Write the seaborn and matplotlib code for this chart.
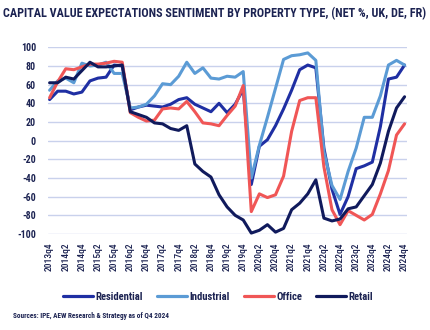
import matplotlib
matplotlib.use("Agg")
import matplotlib.pyplot as plt
from matplotlib import font_manager as fm
import seaborn as sns
import pandas as pd

# Quarter labels, 2013q4 .. 2024q4
quarters = [f"{y}q{q}" for y in range(2013, 2025) for q in range(1, 5)][3:]

residential = [44, 53, 53, 50, 52, 64, 67, 68, 81, 80,
               33, 36, 38, 37, 36, 39, 44, 46, 39, 35,
               31, 40, 30, 39, 55, -47, -6, 1, 16, 34,
               54, 76, 81, 78, -8, -52, -79, -60, -30, -27,
               -23, 15, 66, 68, 81]
industrial = [54, 64, 67, 62, 83, 80, 81, 84, 72, 72,
              35, 36, 39, 48, 61, 60, 69, 84, 72, 78,
              67, 66, 69, 68, 74, -40, -5, 25, 56, 87,
              91, 92, 94, 86, -12, -48, -63, -33, -8, 25,
              25, 48, 81, 86, 81]
office = [46, 63, 77, 76, 79, 82, 82, 83, 85, 84,
          30, 25, 21, 22, 34, 35, 34, 42, 31, 19,
          18, 16, 27, 37, 59, -76, -57, -61, -58, -38,
          10, 43, 46, 46, -28, -74, -90, -75, -80, -85,
          -79, -57, -32, 6, 18]
retail = [62, 62, 68, 66, 75, 84, 79, 79, 80, 81,
          31, 28, 25, 19, 18, 13, 11, 16, -25, -33,
          -39, -58, -71, -80, -85, -99, -96, -90, -98, -94,
          -74, -67, -57, -42, -83, -86, -84, -73, -71, -59,
          -47, -24, 10, 35, 47]

series_names = ["Residential", "Industrial", "Office", "Retail"]
colors = ["#1f2fa3", "#5b9bd5", "#f05656", "#101a5c"]
y_ticks = list(range(-100, 101, 20))

navy = "#1c2352"


def find_font(patterns):
    """Return the first installed font file whose name matches a pattern."""
    files = [f.fname for f in fm.fontManager.ttflist]
    for pat in patterns:
        for fn in files:
            base = fn.replace("\\", "/").split("/")[-1].lower()
            if base.startswith(pat):
                return fn
    return None


bold_file = find_font(["robotocondensed-bold.", "notosans-condensedbold.",
                       "liberationsansnarrow-bold.", "dejavusanscondensed-bold.",
                       "opensans-condbold", "roboto-bold."])
medium_file = find_font(["robotocondensed-medium.", "notosans-condensedmedium.",
                         "robotocondensed-regular.", "notosans-condensed.",
                         "liberationsansnarrow-regular.", "dejavusanscondensed.",
                         "roboto-medium."])


def fp(path, size, bold=False):
    if path:
        return fm.FontProperties(fname=path, size=size)
    return fm.FontProperties(family="DejaVu Sans", size=size,
                             weight="bold" if bold else "normal")


frames = []
for name, vals in zip(series_names, [residential, industrial, office, retail]):
    frames.append(pd.DataFrame({"idx": range(len(quarters)), "value": vals,
                                "series": name}))
df = pd.concat(frames, ignore_index=True)

sns.set_theme(style="white")

fig = plt.figure(figsize=(4.31, 3.30), dpi=100)
ax = fig.add_axes([48 / 431, 1 - 234 / 330, 359 / 431, (234 - 47.3) / 330])

sns.lineplot(data=df, x="idx", y="value", hue="series", hue_order=series_names,
             palette=colors, linewidth=2.2, ax=ax, legend=False, sort=False)
for line in ax.get_lines():
    line.set_clip_on(False)
    line.set_solid_joinstyle("round")
    line.set_solid_capstyle("round")

ax.set_xlim(-0.2, 44.3)
ax.set_ylim(-100, 100)
ax.set_yticks(y_ticks)
ax.set_yticklabels([str(v) for v in y_ticks], color=navy)
xt = list(range(0, len(quarters), 2))
ax.set_xticks(xt)
ax.set_xticklabels([quarters[i] for i in xt], rotation=90, color=navy)
ax.tick_params(axis="y", length=0, pad=8.6)
ax.tick_params(axis="x", length=0, pad=6.0)
ax.set_xlabel("")
ax.set_ylabel("")
ax.grid(axis="y", color="#c9d1ec", linewidth=1.0)
ax.grid(axis="x", visible=False)
ax.set_axisbelow(True)
for s in ax.spines.values():
    s.set_visible(False)

ytick_size, xtick_size = 9.0, 8.0
for lab in ax.get_yticklabels():
    lab.set_fontproperties(fp(bold_file, ytick_size, True))
for lab in ax.get_xticklabels():
    lab.set_fontproperties(fp(medium_file, xtick_size))

title_size = 10.0
title = fig.text(3 / 431, 1 - 14 / 330,
                 "CAPITAL VALUE EXPECTATIONS SENTIMENT BY PROPERTY TYPE, (NET %, UK, DE, FR)",
                 ha="left", va="center", color=navy,
                 fontproperties=fp(bold_file, title_size, True))
src_size = 6.5
source = fig.text(13 / 431, 1 - 316 / 330,
                  "Sources: IPE, AEW Research & Strategy as of Q4 2024",
                  ha="left", va="center", color=navy,
                  fontproperties=fp(bold_file, src_size, True))
probe_size = 9.5
probe = fig.text(0, 0, "Residential", fontproperties=fp(bold_file, probe_size, True))

# Fit text sizes to the widths they occupy on the page
fig.canvas.draw()
r = fig.canvas.get_renderer()
title.set_fontsize(title_size * 424 / title.get_window_extent(r).width)
source.set_fontsize(src_size * 158 / source.get_window_extent(r).width)
leg_size = probe_size * 48 / probe.get_window_extent(r).width
probe.remove()
w = ax.get_yticklabels()[-1].get_window_extent(r).width
for lab in ax.get_yticklabels():
    lab.set_fontsize(ytick_size * 15 / w)
h = ax.get_xticklabels()[0].get_window_extent(r).height
for lab in ax.get_xticklabels():
    lab.set_fontsize(xtick_size * 28.5 / h)

# Legend: 30 px handles, 2 px gap to text, 14 px between entries
px = 72 / 100
handles = [plt.Line2D([0], [0], color=c, linewidth=2.3) for c in colors]
leg = fig.legend(handles, series_names, loc="center", ncol=4,
                 bbox_to_anchor=(218 / 431, 1 - 297 / 330), frameon=False,
                 handlelength=30 * px / leg_size,
                 handletextpad=2.5 * px / leg_size,
                 columnspacing=14 * px / leg_size,
                 borderpad=0, borderaxespad=0,
                 prop=fp(bold_file, leg_size, True))
for t in leg.get_texts():
    t.set_color(navy)

fig.savefig("out.png", dpi=100)
